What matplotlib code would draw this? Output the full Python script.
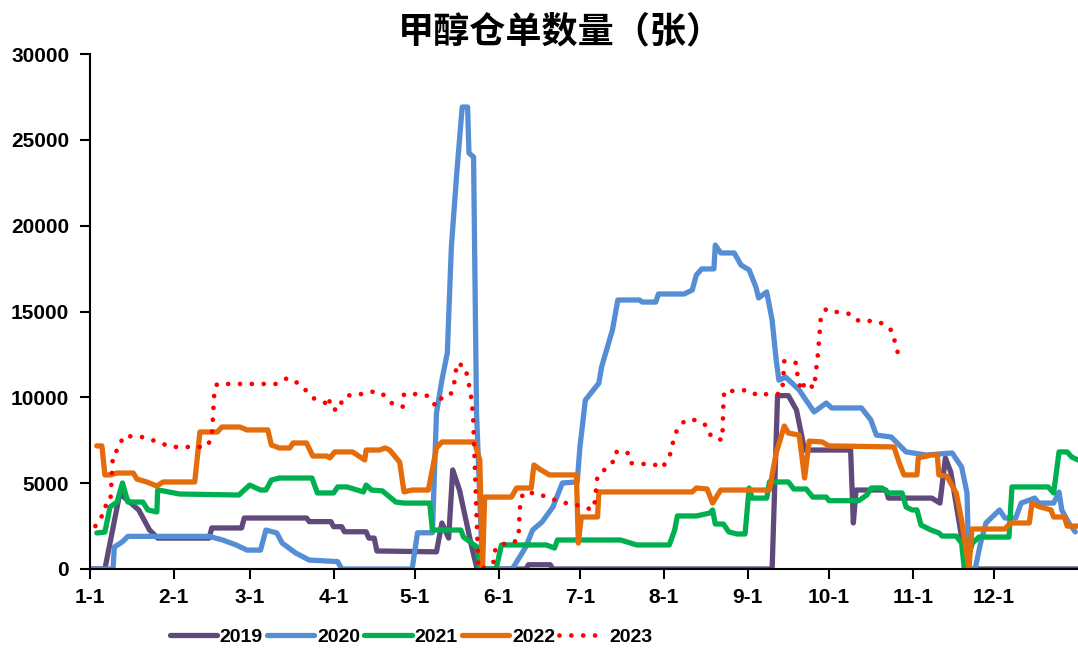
import numpy as np
import matplotlib.pyplot as plt
from matplotlib import font_manager

plt.rcParams['font.family'] = ['Liberation Sans', 'Noto Sans CJK SC', 'DejaVu Sans']

# ---------------------------------------------------------------------------
# Datos: día del año (0 = 1 de enero) y número de recibos de almacén
# ---------------------------------------------------------------------------
d2019 = [0, 5.5, 11, 18, 22, 25, 44, 45, 56, 57, 80, 81, 89, 90, 93, 94, 102, 103,
         105, 106, 128, 130, 132.5, 134, 136.5, 141, 143, 161, 162, 170, 171, 252,
         254, 258, 261, 264, 281, 282, 283, 294, 295, 311, 314, 316, 318, 322, 324, 365]
v2019 = [0, 0, 4400, 3440, 2270, 1800, 1800, 2390, 2390, 2970, 2970, 2760, 2760, 2465,
         2465, 2170, 2170, 1800, 1800, 1050, 1000, 2680, 1800, 5770, 4600, 1300, 0, 0,
         250, 250, 0, 0, 10100, 10100, 9260, 6930, 6930, 2680, 4600, 4600, 4130, 4130,
         3840, 6470, 5650, 1860, 0, 0]

d2020 = [0, 8.5, 9, 12, 14, 44, 49, 54, 58, 63, 65, 69, 71, 76, 81, 91.5, 93, 119, 121,
         126.5, 128, 130, 132, 133.5, 135.5, 137.5, 139.5, 140, 141.7, 142.8, 145, 156,
         161, 163.5, 167, 171, 174.5, 180, 181, 183, 188, 189, 193, 195, 203, 204, 209,
         210, 219.5, 222.5, 224, 226, 230.5, 231, 233, 238, 240.5, 243.5, 246, 247, 250,
         252, 253.5, 254.5, 257, 262, 264.5, 267.5, 272, 274, 285, 288.5, 290.5, 296,
         301.5, 309, 318.5, 322, 324, 324.7, 327, 329, 331, 336, 338, 342, 344, 349,
         350.5, 356, 358, 359, 361.6, 364]
v2020 = [0, 0, 1280, 1590, 1900, 1900, 1690, 1400, 1100, 1100, 2270, 2100, 1510, 930,
         520, 430, 0, 0, 2110, 2110, 9090, 11000, 12580, 18760, 23070, 26910, 26910,
         24230, 24000, 9090, 0, 0, 1280, 2270, 2740, 3610, 5010, 5070, 7110, 9840,
         10830, 11770, 13920, 15670, 15670, 15550, 15550, 16020, 16020, 16250, 17130,
         17480, 17480, 18870, 18410, 18410, 17710, 17420, 16430, 15790, 16140, 14500,
         12170, 11000, 11180, 10430, 9840, 9150, 9670, 9380, 9380, 8680, 7800, 7690,
         6820, 6640, 6760, 5940, 4430, 0, 0, 1510, 2680, 3440, 2970, 2970, 3840, 4130,
         3840, 3840, 4480, 3440, 2680, 2160]

d2021 = [2.5, 5.5, 7.4, 10, 12, 14, 19.5, 21.4, 24.7, 25, 27, 33, 55, 59, 63, 65, 67, 70,
         82, 84, 90, 91.5, 95, 101, 102, 104, 108, 113, 116, 125.5, 126.5, 137, 138, 143,
         144, 150, 152, 168.6, 171.6, 172.7, 196, 202, 214, 216, 217, 224, 229, 230, 231,
         234, 236, 239, 242, 243.5, 244.6, 250, 251, 258, 260, 264.6, 267, 272, 273,
         284, 287, 288.6, 292.6, 295, 300, 301.5, 303.7, 305.5, 307, 310.7, 313.6,
         314.8, 320, 322, 323, 326, 328.4, 339.5, 340.6, 354, 356, 358, 361, 362.7, 365]
v2021 = [2100, 2150, 3610, 3900, 5010, 3900, 3900, 3440, 3320, 4600, 4550, 4370, 4310,
         4890, 4600, 4600, 5180, 5300, 5300, 4430, 4430, 4780, 4780, 4490, 4890, 4600,
         4550, 3900, 3840, 3840, 2270, 2270, 1860, 1280, 0, 0, 1400, 1400, 1220, 1690,
         1690, 1400, 1400, 2270, 3090, 3090, 3260, 3440, 2620, 2620, 2160, 2040, 2040,
         4720, 4130, 4130, 5070, 5070, 4660, 4660, 4190, 4190, 3980, 3980, 4310, 4720,
         4720, 4430, 4430, 3610, 3440, 3440, 2560, 2270, 2100, 1920, 1920, 1510, 0,
         1510, 1860, 1860, 4780, 4780, 4430, 6820, 6820, 6520, 6350]

d2022 = [2.5, 4.4, 5.5, 7.4, 10, 16, 17.3, 21, 24.7, 27, 38.7, 40.6, 47, 48.7, 55.4, 58,
         65.7, 67, 70, 73.8, 75, 80, 82.3, 87.5, 88.6, 90.4, 97, 101.5, 102, 107, 109,
         110.7, 114.4, 116, 119, 125, 128, 130, 142, 144, 145, 145.8, 155.7, 157.6, 163,
         164, 166, 169.7, 179.7, 180.4, 181.5, 187.5, 188, 222.5, 224, 228, 230, 233,
         251, 253.5, 256.5, 258, 262, 264, 265.7, 270.5, 273, 297, 299, 300.7, 305.5,
         306, 310.7, 313, 313.6, 316.6, 320, 322, 324.7, 325.8, 338, 340, 347, 348,
         350.5, 355, 356, 360, 361, 365]
v2022 = [7170, 7170, 5480, 5480, 5590, 5590, 5240, 5070, 4830, 5070, 5070, 7980, 7980,
         8270, 8270, 8100, 8100, 7220, 7050, 7050, 7340, 7340, 6580, 6580, 6470, 6820,
         6820, 6350, 6930, 6930, 7050, 6930, 6230, 4490, 4600, 4600, 7050, 7400, 7400,
         6350, 0, 4190, 4190, 4720, 4720, 6060, 5830, 5480, 5480, 1510, 3030, 3030,
         4490, 4490, 4720, 4660, 3840, 4600, 4600, 6760, 8330, 7920, 7800, 5300, 7450,
         7400, 7170, 7110, 6170, 5480, 5480, 6470, 6640, 6640, 5480, 5400, 4430, 2850,
         0, 2330, 2330, 2680, 2680, 3840, 3640, 3440, 3030, 3030, 2500, 2500]

d2023 = [2, 4, 5, 7.5, 8, 8.5, 11, 12, 17, 21, 25, 30, 43, 45, 46, 47, 69, 73, 76.8, 80,
         83, 87, 88.2, 89, 92, 93.4, 97, 101, 105.5, 108.5, 111.4, 115.5, 116, 120.5,
         125, 127.7, 129, 133, 134.3, 135, 135.5, 138.7, 139.5, 140.6, 141.5, 143.5,
         146, 149, 149.5, 151.7, 156, 158.3, 158.7, 159, 160, 165, 168.6, 173, 177,
         181.5, 185.6, 186.7, 187, 187.5, 190, 193, 194, 198.5, 199.6, 203.5, 208,
         211.5, 213.3, 214.8, 215.5, 217, 220, 224, 228, 229.5, 233.6, 234, 234.3,
         238.7, 243, 247, 250, 255, 256, 256.5, 261, 261.5, 263, 264, 267.5, 268, 269,
         270, 272, 276, 281, 284, 288, 291.5, 295, 297, 297.4, 299]
v2023 = [2500, 2850, 3600, 3840, 5300, 6700, 7050, 7700, 7750, 7630, 7400, 7110, 7110,
         7630, 10490, 10780, 10780, 11130, 10830, 10370, 9900, 9670, 10020, 9320, 9260,
         9960, 10190, 10190, 10370, 10140, 9670, 9440, 10190, 10190, 10080, 9500, 9900,
         10080, 10600, 11300, 12000, 11770, 11070, 10310, 9000, 0, 100, 350, 1050,
         1460, 1460, 1800, 3260, 3900, 4430, 4430, 4190, 3960, 3790, 3670, 3440, 4020,
         4780, 5420, 5770, 6170, 6820, 6820, 6170, 6120, 6120, 5880, 6410, 6820, 7510,
         8160, 8680, 8680, 8330, 7690, 7510, 9670, 10370, 10370, 10430, 10080, 10190,
         10190, 10780, 12120, 12000, 11000, 10370, 10890, 10540, 11240, 12640, 14680,
         15150, 14970, 14850, 14450, 14450, 14390, 14100, 13690, 12990, 12410]

month_days = [0, 31, 59, 90, 120, 151, 181, 212, 243, 273, 304, 334]
month_labels = ['1-1', '2-1', '3-1', '4-1', '5-1', '6-1', '7-1', '8-1', '9-1',
                '10-1', '11-1', '12-1']

series = [
    ('2019', d2019, v2019, '#604A7B'),
    ('2020', d2020, v2020, '#558ED5'),
    ('2021', d2021, v2021, '#00B050'),
    ('2022', d2022, v2022, '#E46C0A'),
]

prop_leyenda = font_manager.FontProperties(family='Liberation Sans',
                                           weight='bold', size=14)

fig = plt.figure(figsize=(10.78, 6.52), dpi=100)
ax = fig.add_axes([90 / 1078, 83 / 652, 988 / 1078, 515 / 652])

for name, d, v, color in series:
    ax.plot(d, v, color=color, linewidth=3.8, label=name,
            solid_joinstyle='round', solid_capstyle='round')

ax.plot(d2023, v2023, color='#FF0000', linewidth=3.4, label='2023',
        linestyle=(0, (0.01, 2.5)), dash_capstyle='round')

ax.set_xlim(0, 365)
ax.set_ylim(0, 30000)
ax.set_yticks(np.arange(0, 30001, 5000))
ax.set_xticks(month_days)
ax.set_xticklabels(month_labels)

for side in ['top', 'right']:
    ax.spines[side].set_visible(False)
for side in ['left', 'bottom']:
    ax.spines[side].set_linewidth(1.5)
ax.tick_params(axis='y', direction='out', length=7, width=1.5,
               labelsize=15, pad=8)
ax.tick_params(axis='x', direction='out', length=7, width=1.5,
               labelsize=15, pad=7)
for lab in ax.get_xticklabels() + ax.get_yticklabels():
    lab.set_fontweight('bold')

fig.suptitle('甲醇仓单数量（张）', x=0.52, y=0.98, fontsize=26,
             fontweight='bold', family=['Noto Sans CJK SC', 'DejaVu Sans'])

leg = ax.legend(loc='center', bbox_to_anchor=(0.325, -0.132), ncol=5,
                frameon=False, handlelength=34 / 14, columnspacing=3 / 14,
                handletextpad=0.15, prop=prop_leyenda)

fig.savefig('out.png', dpi=100)
